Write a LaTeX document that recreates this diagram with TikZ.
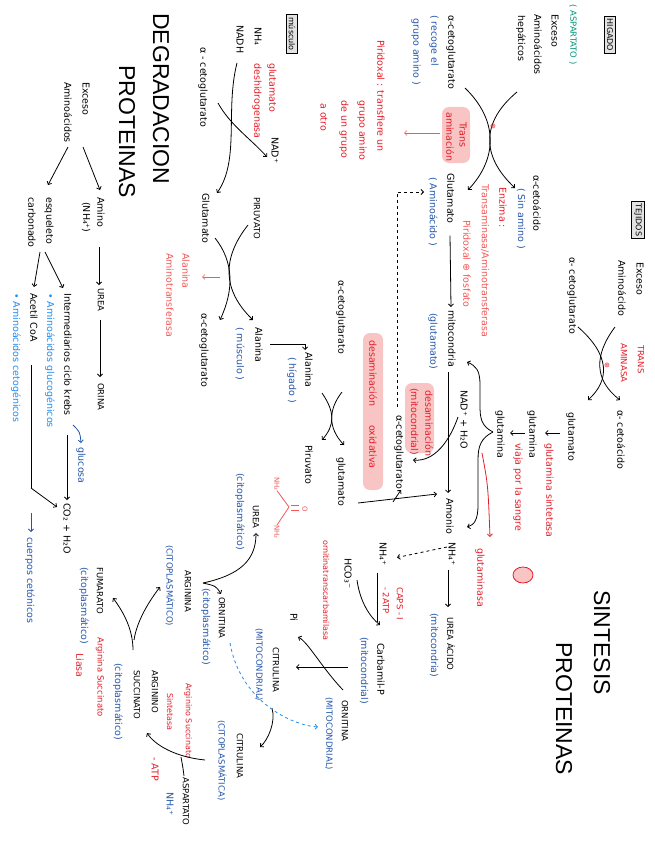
\documentclass[tikz,border=0pt]{standalone}
\usepackage{fontspec}
\setmainfont{DejaVu Sans}
\newfontfamily\titlefont{Liberation Sans}
\usetikzlibrary{arrows.meta,calc}
\definecolor{cBlu}{RGB}{35,85,170}
\definecolor{cSky}{RGB}{30,140,245}
\definecolor{cRed}{RGB}{228,28,40}
\definecolor{cRose}{RGB}{242,88,88}
\definecolor{cTeal}{RGB}{0,150,120}
\definecolor{cPink}{RGB}{248,196,196}

\begin{document}
\begin{tikzpicture}[
  txt/.style={font=\fontsize{9.5}{10}\selectfont, inner sep=0pt, anchor=west},
  txtb/.style={txt, text=cBlu},
  txtr/.style={txt, text=cRed},
  txtp/.style={txt, text=cRose},
  txtc/.style={txt, text=cSky},
  capw/.style={font=\fontsize{8.5}{9}\selectfont},
  ttl/.style={font=\titlefont\fontsize{23}{23}\selectfont, inner sep=0pt, anchor=west},
  organ/.style={draw, line width=1.1pt, fill=gray!22, font=\fontsize{8}{8}\selectfont, inner sep=2.5pt},
  arr/.style={-{Straight Barb[length=2.5pt,width=5pt]}, line width=0.8pt},
  blob/.style={fill=cPink, rounded corners=7pt}
]
\begin{scope}[rotate=-90, transform shape, x=1pt, y=1pt]
  \useasboundingbox (0,0) rectangle (848,655);
  % highlights
  \fill[blob] (107,442) rectangle (163,470);
  \fill[blob] (333,363) rectangle (490,383);
  \fill[blob] (383,405) rectangle (453,434);
  \draw[cRed, fill=cPink, line width=0.8pt] (575,523) ellipse [x radius=8, y radius=10];

  % liver
  \node[organ] (hig) at (35,610) {HIGADO};
  \node[txt, text=cTeal, capw] (asp) at (4,573) {( ASPARTATO )};
  \node[txt] (exc) at (14,555) {Exceso};
  \node[txt] (aah) at (14,538) {Aminoácidos};
  \node[txt] (hep) at (15,521) {hepáticos};
  \node[txt] (akg1) at (15,451) {α-cetoglutarato};
  \node[txtb] (rec1) at (15,434) {( recoge el};
  \node[txtb] (rec2) at (18,416) {grupo amino )};
  \node[txtr] (pir1) at (40,381) {Piridoxal : transfiere un};
  \node[txtr] (pir2) at (100,362) {grupo amino};
  \node[txtr] (pir3) at (100,344) {de un grupo};
  \node[txtr] (pir4) at (103,324) {a otro};
  \draw[arr] (88,465) .. controls (120,498) and (158,498) .. (190,468);
  \draw[arr] (92,517) .. controls (122,481) and (156,481) .. (188,515);
  \node[text=cRed, font=\fontsize{7}{7}\selectfont, inner sep=0pt] (plus1) at (126,493) {⊕};
  \node[txtr] (tam1) at (122,463) {Trans};
  \node[txtr] (tam2) at (112,450) {aminación};
  \draw[arr, cRose, line width=0.6pt] (133,440) -- (133,404);
  \node[txt] (aca1) at (175,537) {α-cetoácido};
  \node[txtb] (sin) at (188,521) {( Sin amino )};
  \node[txtr] (enz) at (187,503) {Enzima :};
  \node[txtp] (tra) at (184,485) {Transaminasa/Aminotransferasa};
  \node[txtp] (pfo) at (220,467) {Piridoxal ⊕ fosfato};
  \node[txt] (glu1) at (173,451) {Glutamato};
  \node[txtb] (aac) at (177,433) {( Aminoácido )};
  \node[txt] (mito) at (310,452) {mitocondria};
  \node[txtb] (gluP) at (313,433) {(glutamato)};
  \draw[arr] ($(glu1.east)+(12,-1)$) -- ($(mito.west)+(-3,-1)$);
  \node[txt] (akg2) at (415,399) {α-cetoglutarato};
  \draw[arr, dashed] ($(akg2.west)+(-8,-2)$) -- (192,397) -- (192,424);

  % muscle
  \node[organ] (mus) at (34,292) {músculo};
  \node[txt] (nh4a) at (27,258) {NH₄};
  \node[txt] (nadh) at (25,240) {NADH};
  \node[txt] (akg3) at (47,203) {α - cetoglutarato};
  \node[txtr] (gdh1) at (63,272) {glutamato};
  \node[txtr] (gdh2) at (63,257) {deshidrogenasa};
  \draw[arr] (63,237) .. controls (110,225) and (160,240) .. (193,217);
  \draw[arr] (103,218) .. controls (125,230) and (140,252) .. (157,267);
  \node[txt] (nad1) at (137,275) {NAD⁺};
  \node[txt] (glu2) at (193,206) {Glutamato};
  \node[txt, capw] (piru1) at (197,257) {PIRUVATO};
  \draw[arr] (238,215) .. controls (262,234) and (290,234) .. (320,220);
  \draw[arr] (225,248) .. controls (258,222) and (290,222) .. (320,253);
  \draw[arr, cRose, line width=0.6pt] (277,220) -- (277,202);
  \node[txtp] (alt1) at (253,186) {Alanina};
  \node[txtp] (alt2) at (253,170) {Aminotransferasa};
  \node[txt] (akg4) at (313,204) {α-cetoglutarato};
  \node[txt] (ala1) at (327,259) {Alanina};
  \node[txtb] (mus2) at (327,240) {( músculo )};
  \node[txt] (ala2) at (352,309) {Alanina};
  \node[txtb] (hig2) at (357,292) {( hígado )};
  \draw[arr] (344,270) -- (344,305) -- (350,305);

  % liver: alanine and deamination
  \node[txt] (akg5) at (280,341) {α-cetoglutarato};
  \draw[arr] (393,322) .. controls (412,335) and (425,335) .. (440,322);
  \draw[arr] (392,342) .. controls (410,328) and (428,328) .. (445,344);
  \node[txt] (piru2) at (445,309) {Piruvato};
  \node[txt] (glu3) at (457,341) {glutamato};
  \node[txtr] (dox1) at (340,373) {desaminación};
  \node[txtr] (dox2) at (425,373) {oxidativa};
  \node[txt] (amon) at (498,450) {Amonio};
  \draw[arr] (503,358) -- ($(amon.west)+(-4,-13)$);
  \draw[arr] (502,393) .. controls (496,396) .. (490,401);
  \draw[arr] ($(mito.east)+(5,-4)$) -- ($(amon.west)+(-5,-2)$);
  \node[txt] (nadh2) at (390,464) {NAD⁺ + H₂O};
  \draw[arr] (417,458) .. controls (440,450) and (462,435) .. (460,413);
  \node[txtr] (dm1) at (390,429) {desaminación};
  \node[txtr] (dm2) at (388,414) {(mitocondrial)};

  % glutamine
  \node[txt] (glu4) at (412,571) {glutamato};
  \node[txt] (gln2) at (410,532) {glutamina};
  \node[txt] (gln1) at (410,500) {glutamina};
  \draw[arr] (433,560) -- (433,545);
  \draw[arr] (433,525) -- (433,510);
  \node[txtr] (gs) at (443,549) {glutamina sintetasa};
  \node[txtr] (vs) at (443,518) {viaja por la sangre};
  \draw[arr] (432,493) .. controls (426,481) and (418,480) .. (405,480) -- (385,480) .. controls (370,480) and (366,476) .. (362,467);
  \draw[arr] (432,493) .. controls (438,481) and (446,478) .. (460,478) -- (505,478) .. controls (520,478) and (525,474) .. (527,467);
  \draw[arr, cRed] (453,482) .. controls (485,488) .. (537,490);
  \node[txtr] (gasa) at (548,480) {glutaminasa};

  % tissues
  \node[organ] (tej) at (220,638) {TEJIDOS};
  \node[txt] (exc3) at (262,640) {Exceso};
  \node[txt] (aa3) at (260,622) {Aminoácido};
  \node[txt] (akg6) at (257,572) {α- cetoglutarato};
  \draw[arr] (327,578) .. controls (355,610) and (380,610) .. (400,588);
  \draw[arr] (327,615) .. controls (355,594) and (380,594) .. (400,620);
  \node[txtr, capw] (tr2a) at (345,641) {TRANS};
  \node[txtr, capw] (tr2b) at (343,624) {AMINASA};
  \node[text=cRed, font=\fontsize{7}{7}\selectfont, inner sep=0pt] (plus2) at (365,607) {⊕};
  \node[txt] (aca2) at (410,621) {α- cetoácido};

  % urea cycle, mitochondria
  \node[txt] (nh4b) at (542,452) {NH₄⁺};
  \node[txt] (nh4c) at (542,383) {NH₄⁺};
  \draw[arr, dashed] ($(nh4b.west)+(5,-5)$) -- ($(nh4c.east)+(-8,14)$);
  \node[txt] (hco) at (558,348) {HCO₃⁻};
  \draw[line width=0.8pt] (573,377) -- (622,377);
  \draw[arr] (580,357) .. controls (602,360) and (617,370) .. (625,380);
  \node[txtr, capw] (caps) at (587,400) {CAPS - I};
  \node[txtr, capw] (atp2) at (587,386) {- 2ATP};
  \draw[arr] (570,448) -- (607,448);
  \node[txt, capw] (uac) at (617,451) {UREA ÁCIDO};
  \node[txtb] (mitoA) at (613,434) {(mitocondria)};
  \node[txt] (cbp) at (643,381) {Carbamil-P};
  \node[txtb] (mitoB) at (637,364) {(mitocondrial)};
  \node[txtr, font=\fontsize{8}{9}\selectfont] (otc) at (540,326) {ornitinatranscarbamilasa};
  \node[txt] (pi) at (613,294) {Pi};
  \draw[arr] (667,348) -- (667,296);
  \draw[arr] (690,343) .. controls (668,322) and (642,308) .. (637,298);
  \node[txt, capw] (cit1) at (647,276) {CITRULINA};
  \node[txtb, capw] (mitoC) at (628,259) {(MITOCONDRIAL)};
  \node[txt, capw] (orn1) at (700,345) {ORNITINA};
  \node[txtb, capw] (mitoD) at (697,329) {(MITOCONDRIAL)};
  \draw[arr] (708,272) .. controls (722,276) and (740,268) .. (747,260);
  \node[txt, capw] (cit2) at (733,240) {CITRULINA};
  \node[txtb, capw] (citA) at (720,222) {(CITOPLASMÁTICA)};
  \draw[arr, cSky, dashed, line width=0.8pt] (643,230) .. controls (700,240) and (725,290) .. (727,318);

  % urea cycle, cytoplasm
  \node[txt, capw] (orn2) at (597,222) {ORNITINA};
  \node[txtb] (citB) at (588,206) {(citoplasmático)};
  \node[txt, capw] (arg) at (570,188) {ARGININA};
  \node[txtb, capw] (citC) at (545,170) {(CITOPLASMÁTICO)};
  \node[txt, capw] (urea2) at (505,256) {UREA};
  \node[txtb] (citD) at (473,240) {(citoplasmático)};
  \draw[arr] (583,203) .. controls (575,240) and (560,256) .. (533,256);
  \draw[arr] (583,203) .. controls (586,216) .. (594,221);
  \node[txtp, font=\fontsize{7}{7}\selectfont] (nh2a) at (477,277) {NH₂};
  \node[txtp, font=\fontsize{7}{7}\selectfont] (nh2b) at (525,277) {NH₂};
  \node[txtp, font=\fontsize{7}{7}\selectfont] (oxy) at (506,305) {O};
  \draw[cRose, line width=0.8pt] (nh2a.east) -- (507,289) -- (nh2b.west);
  \draw[cRose, line width=0.8pt] (505,291) -- (505,299) (510,291) -- (510,299);
  \node[txt, capw] (fum) at (567,100) {FUMARATO};
  \node[txtb] (citE) at (567,84) {(citoplasmático)};
  \node[txtr, font=\fontsize{8.5}{9}\selectfont] (asl1) at (637,100) {Arginina Succinato};
  \node[txtr] (asl2) at (653,80) {Liasa};
  \draw[arr] (650,133) .. controls (628,133) and (610,122) .. (598,113);
  \draw[arr] (640,134) .. controls (620,137) and (600,150) .. (587,160);
  \node[txt, capw] (as1) at (670,155) {ARGININO};
  \node[txt, capw] (as2) at (670,137) {SUCCINATO};
  \node[txtb] (citF) at (663,118) {(citoplasmático)};
  \node[txtr, font=\fontsize{8}{9}\selectfont] (ass1) at (683,188) {Arginino Succinato};
  \node[txtr, font=\fontsize{8}{9}\selectfont] (ass2) at (693,170) {Sintetasa};
  \node[txtr] (atp1) at (757,155) {- ATP};
  \node[txt, capw] (aspt) at (777,186) {ASPARTATO};
  \node[txtb] (nh4d) at (792,170) {NH₄⁺};
  \draw[arr] (760,205) .. controls (757,175) and (745,155) .. (733,147);
  \draw[line width=0.8pt] (776,184) .. controls (768,183) .. (757,181);

  % degradation
  \node[ttl] (deg) at (13,161) {DEGRADACION};
  \node[ttl] (prot1) at (65,127) {PROTEINAS};
  \node[txt] (exc2) at (82,86) {Exceso};
  \node[txt] (aa2) at (82,68) {Aminoácidos};
  \draw[arr] (147,83) -- (190,100);
  \draw[arr] (147,68) -- (185,48);
  \node[txt] (amino) at (197,101) {Amino};
  \node[txt] (nh4e) at (202,86) {(NH₄⁺)};
  \node[txt] (esq) at (197,49) {esqueleto};
  \node[txt] (carb) at (197,32) {carbonado};
  \node[txt, capw] (urea1) at (288,101) {UREA};
  \node[txt, capw] (ori) at (383,101) {ORINA};
  \draw[arr] (247,99) -- ($(urea1.west)+(-3,-2)$);
  \draw[arr] ($(urea1.east)+(8,-1)$) -- ($(ori.west)+(-6,-1)$);
  \node[txt] (krebs) at (293,68) {Intermediarios ciclo krebs};
  \node[txtc] (glucog) at (293,50) {• Aminoácidos glucogénicos};
  \node[txt] (acoa) at (293,34) {Acetil CoA};
  \node[txtc] (cetog) at (293,16) {• Aminoácidos cetogénicos};
  \draw[arr] (252,45) -- ($(krebs.west)+(-5,-5)$);
  \draw[arr] (252,40) -- ($(acoa.west)+(-6,0)$);
  \node[txt] (co2) at (503,67) {CO₂ + H₂O};
  \draw[arr] (435,67) -- ($(co2.west)+(-3,0)$);
  \node[txtb] (gluc) at (447,81) {glucosa};
  \draw[arr, cBlu] (425,73) .. controls (432,80) .. ($(gluc.west)+(-4,0)$);
  \draw[line width=0.8pt] (365,31) -- (488,31);
  \draw[arr] (488,31) -- (507,57);
  \node[txtb] (cc) at (537,30) {cuerpos cetónicos};
  \draw[arr, cBlu] (513,31) -- ($(cc.west)+(-5,1)$);

  % synthesis
  \node[ttl] (sint) at (590,602) {SINTESIS};
  \node[ttl] (prot2) at (642,564) {PROTEINAS};
\end{scope}
\end{tikzpicture}
\end{document}
